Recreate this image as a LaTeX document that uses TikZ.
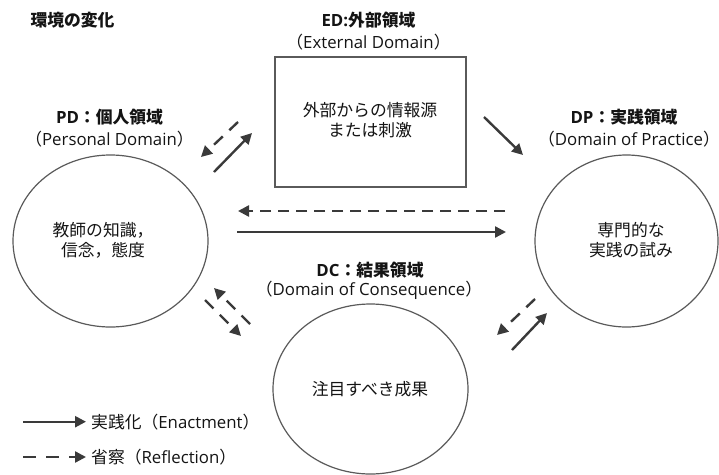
\documentclass[tikz,border=0pt]{standalone}
\usepackage{fontspec}
\setmainfont{Noto Sans CJK JP}
\newfontfamily\lf{Open Sans}
\usetikzlibrary{arrows.meta,shapes.geometric}
\definecolor{ink}{HTML}{141414}
\definecolor{arrowgray}{HTML}{3A3A3A}
\definecolor{edgegray}{HTML}{5A5A5A}
\begin{document}
\begin{tikzpicture}[x=1pt,y=-1pt,
  txt/.style={text=ink,inner sep=0pt,font=\fontsize{16.8}{20}\selectfont,align=center},
  ttl/.style={txt,font=\fontsize{16.8}{20}\selectfont\bfseries},
  domainoval/.style={ellipse,draw=edgegray,line width=1.2pt,inner sep=0pt},
  ebox/.style={rectangle,draw=edgegray,line width=1.2pt,inner sep=0pt,minimum width=191pt,minimum height=130pt},
  enact/.style={draw=arrowgray,line width=2.4pt,-{Triangle[length=11pt,width=11pt]}},
  reflect/.style={draw=arrowgray,line width=2.4pt,dash pattern=on 12pt off 9pt,-{Triangle[length=11pt,width=11pt]}},
  reflecth/.style={reflect,dash pattern=on 11pt off 7pt}]
\useasboundingbox (0,0) rectangle (719,474);
\fill[white] (0,0) rectangle (719,474);

% headings
\node[ttl] (env) at (72.5,20) {環境の変化};
\node[ttl] (edt) at (368.5,20) {{\lf ED:}外部領域};
\node[txt] (eds) at (368.5,42) {（{\lf External Domain}）};
\node[ttl] (pdt) at (109.5,117) {{\lf PD}：個人領域};
\node[txt] (pds) at (109.5,139) {（{\lf Personal Domain}）};
\node[ttl] (dpt) at (624,117) {{\lf DP}：実践領域};
\node[txt] (dps) at (629,139) {（{\lf Domain of Practice}）};
\node[ttl] (dct) at (370,270) {{\lf DC}：結果領域};
\node[txt] (dcs) at (369,290) {（{\lf Domain of Consequence}）};

% the four domains
\node[ebox] (ed) at (370.5,122) {};
\node[txt] (edtext) at (370,120) {外部からの情報源\\または刺激};
\node[domainoval,minimum width=195pt,minimum height=172pt] (pd) at (110.5,241) {};
\node[txt] (pdtext) at (103,240) {教師の知識，\\信念，態度};
\node[domainoval,minimum width=183pt,minimum height=172pt] (dp) at (626.5,241) {};
\node[txt] (dptext) at (631,240) {専門的な\\実践の試み};
\node[domainoval,minimum width=195pt,minimum height=170pt] (dc) at (370.5,389) {};
\node[txt] (dctext) at (370,389) {注目すべき成果};

% arrow end points
\coordinate (pe1) at (214,172);   \coordinate (pe2) at (252,133);
\coordinate (ep1) at (238,122);   \coordinate (ep2) at (201,157);
\coordinate (ed1) at (484,117);   \coordinate (ed2) at (523,155);
\coordinate (dh1) at (505,211);   \coordinate (dh2) at (238,211);
\coordinate (sh1) at (237,232);   \coordinate (sh2) at (506,232);
\coordinate (cp1) at (250,324);   \coordinate (cp2) at (214,288);
\coordinate (pc1) at (205,300);   \coordinate (pc2) at (241,336);
\coordinate (cd1) at (512,350);   \coordinate (cd2) at (547,313);
\coordinate (dc1) at (535,299);   \coordinate (dc2) at (497,335);

\draw[enact] (pe1) -- (pe2);
\draw[reflect] (ep1) -- (ep2);
\draw[enact] (ed1) -- (ed2);
\draw[reflecth] (dh1) -- (dh2);
\draw[enact] (sh1) -- (sh2);
\draw[reflect] (cp1) -- (cp2);
\draw[reflect] (pc1) -- (pc2);
\draw[enact] (cd1) -- (cd2);
\draw[reflect] (dc1) -- (dc2);

% legend
\coordinate (l1a) at (23,421.7);  \coordinate (l1b) at (86,421.7);
\coordinate (l2a) at (23,457);    \coordinate (l2b) at (86,457);
\draw[enact] (l1a) -- (l1b);
\draw[reflect,dash pattern=on 13pt off 10pt] (l2a) -- (l2b);
\node[txt,anchor=west] (leg1) at (91,421.7) {実践化（{\lf Enactment}）};
\node[txt,anchor=west] (leg2) at (91,457) {省察（{\lf Reflection}）};
\end{tikzpicture}
\end{document}
